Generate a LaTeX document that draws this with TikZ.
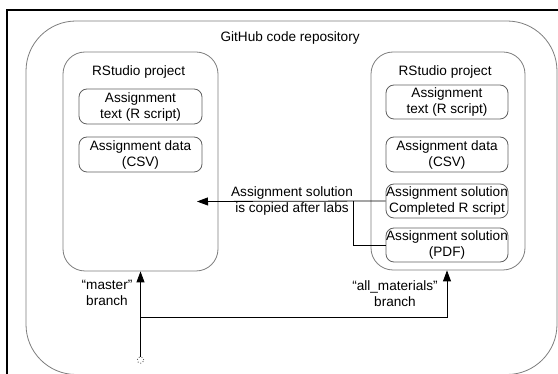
\documentclass[tikz,border=0pt]{standalone}
\usepackage{fontspec}
\setmainfont{Liberation Sans}
\usetikzlibrary{arrows.meta,calc}

\definecolor{boxgray}{RGB}{125,125,125}
\definecolor{itemgray}{RGB}{95,95,95}

\begin{document}
\begin{tikzpicture}[x=1pt,y=-1pt,>={Triangle[length=11pt,width=8pt]},
      every node/.style={font=\fontsize{13.6}{16}\selectfont,align=center,inner sep=0pt},
      repo/.style={draw=boxgray,line width=.8pt,rounded corners=50pt},
      project/.style={draw=boxgray,line width=.8pt,rounded corners=22pt,
        minimum width=155pt,minimum height=219pt},
      item/.style={draw=itemgray,line width=.8pt,rounded corners=8pt,
        minimum width=123pt,minimum height=35pt},
      link/.style={draw=black,line width=.8pt}]
      \useasboundingbox (0,0) rectangle (558,374);

      % frame and repository
      \draw[line width=2pt] (7,380) -- (7,10) -- (565,10);
      \draw[repo] (26,21) rectangle (557,374.5);
      \node (repotitle) at (292, 38) { GitHub code repository };

      % master side
      \node[project] (pmaster) at (140.5, 161.5) {};
      \node (tmaster) at (140.5, 72) { RStudio project };
      \node[item] (mtext) at (140.5, 106.5) { Assignment\\text (R script) };
      \node[item] (mdata) at (140.5, 154.5) { Assignment data\\(CSV) };

      % all_materials side
      \node[project,minimum height=218pt,minimum width=154pt] (pall) at (448, 161) {};
      \node (tall) at (447, 72) { RStudio project };
      \node[item,minimum width=122pt,minimum height=34pt] (atext) at (447, 102) { Assignment\\text (R script) };
      \node[item,minimum width=122pt] (adata) at (447, 154.5) { Assignment data\\(CSV) };
      \node[item,minimum width=122pt,minimum height=34pt] (asol) at (447, 201) { Assignment solution\\Completed R script };
      \node[item,minimum width=122pt,minimum height=34pt] (apdf) at (447, 245) { Assignment solution\\(PDF) };

      % copy after labs
      \coordinate (copyend) at (197, 201.5);
      \coordinate (join) at (353, 201);
      \node (copylabel) at (292, 201) { Assignment solution\\is copied after labs };
      \draw[link,->] (asol.west) -- (copyend);
      \draw[link] (apdf.west) -| (join);

      % branches
      \coordinate (start) at (140.5, 360);
      \coordinate (split) at (140.5, 317);
      \draw[dotted,line width=.9pt,itemgray] (start) circle (3.2pt);
      \draw[link,->] ($(start)+(0,-3.2)$) -- (pmaster.south);
      \draw[link,->] (split) -| (pall.south -| tall);
      \node (lmaster) at (107, 293) { “master”\\branch };
      \node (lall) at (395, 294) { “all\_materials”\\branch };
\end{tikzpicture}
\end{document}
